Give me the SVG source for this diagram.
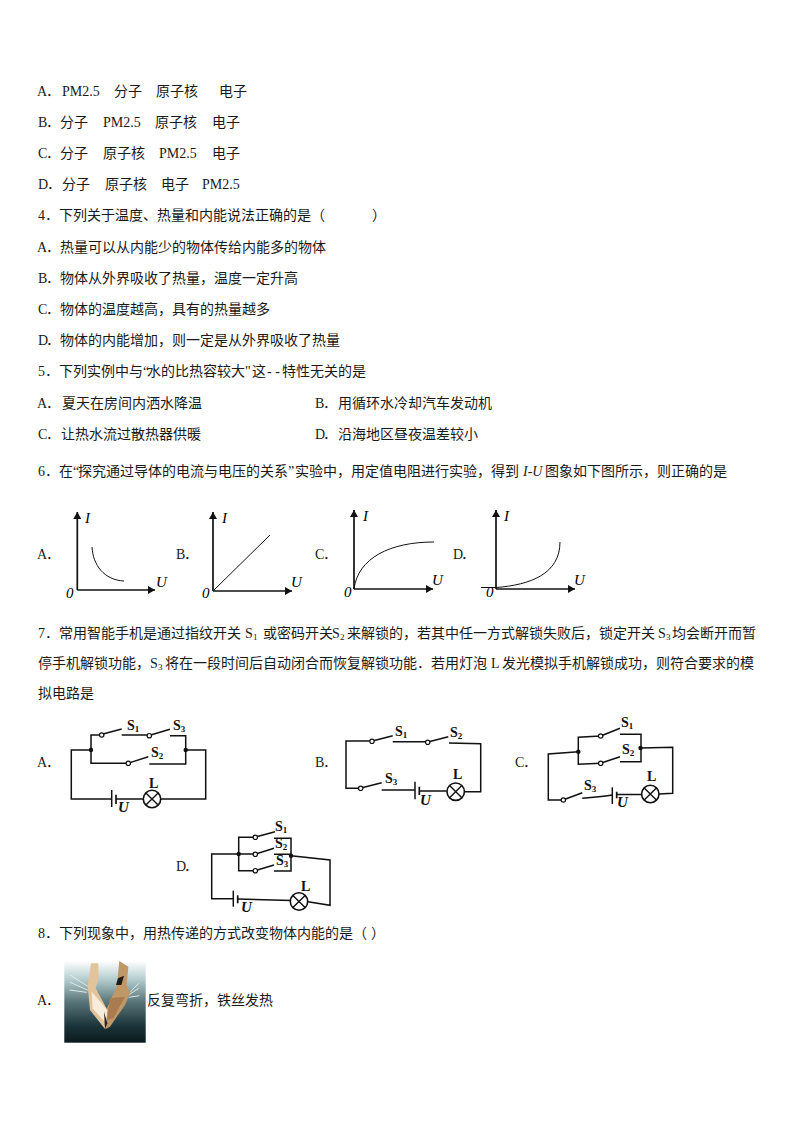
<svg xmlns="http://www.w3.org/2000/svg" width="794" height="1123" viewBox="0 0 794 1123">
<style>
text{font-family:"Noto Sans CJK SC","Liberation Serif",sans-serif;font-size:14px;fill:#1a1a1a}
.m{font-family:"Liberation Serif","Noto Sans CJK SC",serif}
.l{font-family:"Liberation Serif","Noto Sans CJK SC",serif}
.i{font-family:"Liberation Serif",serif;font-style:italic;font-size:15px;fill:#000}
.v{font-family:"Liberation Serif",serif;font-style:italic;font-weight:bold;font-size:15px;fill:#111}
.s{font-family:"Liberation Serif",serif;font-weight:bold;font-size:14px;fill:#111}
.sub{font-size:9px}
.w{fill:none;stroke:#111;stroke-width:1.5}
.t{fill:none;stroke:#111;stroke-width:1}
.a{fill:none;stroke:#111;stroke-width:1.7}
.o{fill:#fff;stroke:#111;stroke-width:1.2}
.d{fill:#111}
</style>
<defs>
<marker id="ah" markerUnits="userSpaceOnUse" markerWidth="8" markerHeight="8" refX="7" refY="4" orient="auto"><path d="M0 0L7 4L0 8Z" fill="#111"/></marker>
<linearGradient id="ph" x1="0" y1="0" x2="0" y2="1"><stop offset="0" stop-color="#fbfdfd"/><stop offset=".22" stop-color="#b4ccce"/><stop offset=".5" stop-color="#587478"/><stop offset=".8" stop-color="#1b3338"/><stop offset="1" stop-color="#0b1a1e"/></linearGradient>
<filter id="soft" x="-10%" y="-10%" width="120%" height="120%"><feGaussianBlur stdDeviation="1.800"/></filter>
<g id="lamp"><circle r="8.7" fill="#fff" stroke="#111" stroke-width="1.6"/><path d="M-6.1-6.1L6.1 6.1M-6.1 6.1L6.1-6.1" stroke="#111" stroke-width="1.4"/></g>
</defs>

<g id="options-3">
<text y="96"><tspan class="m" x="37">A</tspan><tspan x="46">．</tspan><tspan class="l" x="62">PM2.5</tspan><tspan x="114">分子</tspan><tspan x="156">原子核</tspan><tspan x="219">电子</tspan></text>
<text y="127"><tspan class="m" x="38">B</tspan><tspan x="46">．</tspan><tspan x="60">分子</tspan><tspan class="l" x="103">PM2.5</tspan><tspan x="155">原子核</tspan><tspan x="212">电子</tspan></text>
<text y="158"><tspan class="m" x="38">C</tspan><tspan x="46">．</tspan><tspan x="60">分子</tspan><tspan x="103">原子核</tspan><tspan class="l" x="159">PM2.5</tspan><tspan x="212">电子</tspan></text>
<text y="189"><tspan class="m" x="38">D</tspan><tspan x="47">．</tspan><tspan x="62">分子</tspan><tspan x="105">原子核</tspan><tspan x="161">电子</tspan><tspan class="l" x="202">PM2.5</tspan></text>
</g>
<g id="question-4">
<text y="220"><tspan class="m" x="38">4</tspan><tspan x="45">．</tspan><tspan x="59">下列关于温度、热量和内能说法正确的是（</tspan><tspan x="372">）</tspan></text>
<text y="252"><tspan class="m" x="37">A</tspan><tspan x="46">．</tspan><tspan x="60">热量可以从内能少的物体传给内能多的物体</tspan></text>
<text y="283"><tspan class="m" x="38">B</tspan><tspan x="46">．</tspan><tspan x="60">物体从外界吸收了热量，温度一定升高</tspan></text>
<text y="314"><tspan class="m" x="38">C</tspan><tspan x="46">．</tspan><tspan x="60">物体的温度越高，具有的热量越多</tspan></text>
<text y="345"><tspan class="m" x="38">D</tspan><tspan x="46">．</tspan><tspan x="60">物体的内能增加，则一定是从外界吸收了热量</tspan></text>
</g>
<g id="question-5">
<text y="376"><tspan class="m" x="38">5</tspan><tspan x="45">．</tspan><tspan x="59">下列实例中与</tspan><tspan class="l" x="143">“</tspan><tspan x="147">水的比热容较大</tspan><tspan class="l" x="245">"</tspan><tspan x="252">这</tspan><tspan class="l" x="267">- -</tspan><tspan x="282">特性无关的是</tspan></text>
<text y="408"><tspan class="m" x="37">A</tspan><tspan x="46">．</tspan><tspan x="62">夏天在房间内洒水降温</tspan></text>
<text y="408"><tspan class="m" x="315">B</tspan><tspan x="323">．</tspan><tspan x="338">用循环水冷却汽车发动机</tspan></text>
<text y="439"><tspan class="m" x="38">C</tspan><tspan x="46">．</tspan><tspan x="61">让热水流过散热器供暖</tspan></text>
<text y="439"><tspan class="m" x="315">D</tspan><tspan x="323">．</tspan><tspan x="338">沿海地区昼夜温差较小</tspan></text>
</g>
<g id="question-6">
<text y="476"><tspan class="m" x="38">6</tspan><tspan x="45">．</tspan><tspan x="59">在</tspan><tspan class="l" x="73">“</tspan><tspan x="78">探究通过导体的电流与电压的关系</tspan><tspan class="l" x="288">”</tspan><tspan x="295">实验中，</tspan><tspan x="351">用定值电阻进行实验，得到</tspan><tspan class="l" font-style="italic" x="523">I-U</tspan><tspan x="545">图象如下图所示，则正确的是</tspan></text>
</g>

<g id="graph-a">
<text class="m" x="37" y="559">A</text><text x="46" y="559">．</text>
<path class="a" d="M77.3 590V512" marker-end="url(#ah)"/><path class="a" d="M77.3 590H155" marker-end="url(#ah)"/>
<path class="t" d="M92 547C93 565 104 580 124 581"/>
<text class="i" x="85" y="523">I</text><text class="i" x="156" y="587">U</text><text class="i" x="66" y="598">0</text>
</g>
<g id="graph-b">
<text class="m" x="176" y="559">B</text><text x="184" y="559">．</text>
<path class="a" d="M213 591V512" marker-end="url(#ah)"/><path class="a" d="M213 591H292" marker-end="url(#ah)"/>
<path class="t" d="M213 591L270 535"/>
<text class="i" x="222" y="523">I</text><text class="i" x="291" y="587">U</text><text class="i" x="202" y="598">0</text>
</g>
<g id="graph-c">
<text class="m" x="315" y="559">C</text><text x="323" y="559">．</text>
<path class="a" d="M354 589V510" marker-end="url(#ah)"/><path class="a" d="M354 589H433" marker-end="url(#ah)"/>
<path class="t" d="M354 589C358 558 390 542 434 542"/>
<text class="i" x="363" y="521">I</text><text class="i" x="432" y="585">U</text><text class="i" x="344" y="597">0</text>
</g>
<g id="graph-d">
<text class="m" x="453" y="559">D</text><text x="461" y="559">．</text>
<path class="a" d="M496 589V510" marker-end="url(#ah)"/><path class="a" d="M496 589H575" marker-end="url(#ah)"/>
<path class="t" d="M481 587.500H496C530 585 560 574 560 542"/>
<text class="i" x="504" y="521">I</text><text class="i" x="574" y="585">U</text><text class="i" x="486" y="597">0</text>
</g>

<g id="question-7">
<text y="638"><tspan class="m" x="38">7</tspan><tspan x="45">．</tspan><tspan x="59">常用智能手机是通过指纹开关</tspan><tspan class="l" x="245">S</tspan><tspan class="l sub" x="253" dy="2">1</tspan><tspan x="263" dy="-2">或密码开关</tspan><tspan class="l" x="332">S</tspan><tspan class="l sub" x="340" dy="2">2</tspan><tspan x="347" dy="-2">来解锁的，若其中任一方式解锁失败后，锁定开关</tspan><tspan class="l" x="658">S</tspan><tspan class="l sub" x="666" dy="2">3</tspan><tspan x="672" dy="-2">均会断开而暂</tspan></text>
<text y="668"><tspan x="38">停手机解锁功能，</tspan><tspan class="l" x="150">S</tspan><tspan class="l sub" x="158" dy="2">3</tspan><tspan x="165" dy="-2">将在一段时间后自动闭合而恢复解锁功能．若用灯泡</tspan><tspan class="l" x="491">L</tspan><tspan x="502">发光模拟手机解锁成功，则符合要求的模</tspan></text>
<text x="38" y="698">拟电路是</text>
</g>

<g id="connectors">
<path class="w" d="M91 750H71.3V799H111.7M116 799H143.300M160.700 799H205.700V750H185.700"/>
<path class="w" d="M101.700 735H91V763.300H128.300M121.700 735H149.300M170 735.700H185.700V764H149.300"/>
<path class="w" d="M372 741H346V788.300H360.700M392.700 741.700H427.700M449 743L480.700 743.700V791.700H464.700M446.700 791H419.300M415 790H381.700"/>
<path class="w" d="M578.300 751.700L548.300 754V800H563.300M582.300 798.300Q600 797 612.300 795M616.700 794.500H641.600M659 794L672.700 793.300V747.300L641 748"/>
<path class="w" d="M600.700 736L578.300 737.300V764.300L600.700 763.300M620 734.300H641V761.700H620M620 734.300"/>
<path class="w" d="M238.700 854H211.700V898.700H233.300M237.700 899L291.700 900.500M308 901.700L330 905.300V860L291 855.700"/>
<path class="w" d="M255.300 837.300H238.700V870.700H255.300M238.700 854H255.300M274 838.300H291V871H274M274 854.300H291"/>
</g>

<g id="circuit-a">
<text class="m" x="37" y="767">A</text><text x="46" y="767">．</text>
<path class="w" d="M103 734L121.700 729M150.700 735L170 729.300M130 762.600L148.300 756.700"/>
<path class="w" d="M111.700 790V807"/><path class="a" d="M116 794.700V804"/>
<circle class="o" cx="101.700" cy="735" r="2.200"/><circle class="o" cx="149.300" cy="735.700" r="2.200"/><circle class="o" cx="128.300" cy="763.300" r="2.200"/>
<circle class="d" cx="91" cy="750" r="2.200"/><circle class="d" cx="185.700" cy="750" r="2.200"/>
<use href="#lamp" x="152" y="799"/>
<text class="s" x="127" y="730">S<tspan class="sub" dy="2">1</tspan></text><text class="s" x="173" y="730">S<tspan class="sub" dy="2">3</tspan></text><text class="s" x="151" y="757">S<tspan class="sub" dy="2">2</tspan></text>
<text class="s" x="149" y="788">L</text><text class="v" x="118" y="812">U</text>
</g>
<g id="circuit-b">
<text class="m" x="315" y="767">B</text><text x="323" y="767">．</text>
<path class="w" d="M373.500 740.800L392.700 735.700M429 741.800L448.300 736.700M362 787.800L381.700 782.700"/>
<path class="w" d="M415 781.700V799.300"/><path class="a" d="M419.300 786.700V795"/>
<circle class="o" cx="372" cy="741.300" r="2.200"/><circle class="o" cx="427.700" cy="742.300" r="2.200"/><circle class="o" cx="360.700" cy="788.300" r="2.200"/>
<use href="#lamp" x="455.700" y="791.700"/>
<text class="s" x="395" y="736">S<tspan class="sub" dy="2">1</tspan></text><text class="s" x="450" y="737">S<tspan class="sub" dy="2">2</tspan></text><text class="s" x="385" y="783">S<tspan class="sub" dy="2">3</tspan></text>
<text class="s" x="453" y="779" font-size="11">L</text><text class="v" x="420" y="805">U</text>
</g>
<g id="circuit-c">
<text class="m" x="515" y="767">C</text><text x="523" y="767">．</text>
<path class="w" d="M602 735.500L620 728.300M602 762.800L620 756.700M565 799.300L582.300 792.700"/>
<path class="w" d="M612.300 787.300V804"/><path class="a" d="M616.700 791.700V798.300"/>
<circle class="o" cx="600.700" cy="736" r="2.200"/><circle class="o" cx="600.700" cy="763.300" r="2.200"/><circle class="o" cx="563.300" cy="800" r="2.200"/>
<circle class="d" cx="578.300" cy="751.700" r="2.200"/><circle class="d" cx="640.500" cy="748" r="2.200"/>
<use href="#lamp" x="650.300" y="794"/>
<text class="s" x="621" y="727">S<tspan class="sub" dy="2">1</tspan></text><text class="s" x="622" y="754">S<tspan class="sub" dy="2">2</tspan></text><text class="s" x="584" y="790">S<tspan class="sub" dy="2">3</tspan></text>
<text class="s" x="647" y="781">L</text><text class="v" x="617" y="807">U</text>
</g>
<g id="circuit-d">
<text class="m" x="176" y="871">D</text><text x="184" y="871">．</text>
<path class="w" d="M256.500 836.800L275 831.700M256.500 853.800L274 848.300M256.500 870.200L274 865"/>
<path class="w" d="M233.300 890.700V906.700"/><path class="a" d="M237.700 895.300V903.300"/>
<circle class="o" cx="255.300" cy="837.300" r="2.200"/><circle class="o" cx="255.300" cy="854.300" r="2.200"/><circle class="o" cx="255.300" cy="870.700" r="2.200"/>
<circle class="d" cx="238.700" cy="854" r="2.200"/><circle class="d" cx="291" cy="855.700" r="2.200"/>
<use href="#lamp" x="299" y="901.500"/>
<text class="s" x="275" y="831">S<tspan class="sub" dy="2">1</tspan></text><text class="s" x="275" y="848">S<tspan class="sub" dy="2">2</tspan></text><text class="s" x="276" y="865">S<tspan class="sub" dy="2">3</tspan></text>
<text class="s" x="301" y="891">L</text><text class="v" x="241" y="912">U</text>
</g>

<g id="question-8">
<text y="938"><tspan class="m" x="38">8</tspan><tspan x="45">．</tspan><tspan x="59">下列现象中，用热传递的方式改变物体内能的是（</tspan><tspan x="371">）</tspan></text>
<text class="m" x="37" y="1005">A</text><text x="46" y="1005">．</text>
<text x="147" y="1005">反复弯折，铁丝发热</text>
</g>
<g id="photo">
<rect x="64.300" y="961.700" width="81.400" height="81" fill="url(#ph)"/>
<g transform="translate(30 955) scale(.3333)" filter="url(#soft)">
<path d="M120 60L175 95M120 82L175 106M118 105L170 112M300 112L326 85M296 120L326 100M296 127L328 122" stroke="#dfe9e8" stroke-width="3" fill="none"/>
<path d="M183 25L205 25L206 70L197 100L235 170L232 210L225 222L180 165L173 92Z" fill="#e2c49c"/>
<path d="M268 18L295 35L290 90L300 115L285 150L240 215L227 222L226 170L260 95Z" fill="#c09868"/>
<path d="M258 90L264 70L282 62L274 90Z" fill="#1a1a1a"/>
<path d="M185 110L232 165L228 205L188 160Z" fill="#f8ecdc"/>
<path d="M240 130L285 125L250 190L232 195Z" fill="#a87c50"/>
<path d="M222 170L232 205L225 222Z" fill="#2b2420"/>
</g>
</g>
</svg>
